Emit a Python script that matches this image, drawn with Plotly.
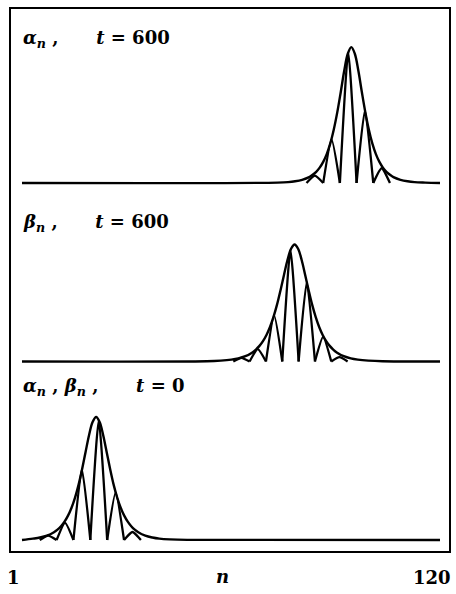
import plotly.graph_objects as go

# ---- lattice range -------------------------------------------------------
n_first, n_last = 1, 120
tick_labels = ["1", "n", "120"]

# ---- panel 1: alpha_n at t = 600 ----------------------------------------
# envelope |alpha_n|
a600_env_n = [1, 73.75, 76.75, 78.75, 80.75, 82.75, 83.75, 84.75, 85.75, 86.75,
              87.75, 88.75, 89.75, 90.75, 91.75, 92.75, 93.75, 94.75, 95.75,
              96.75, 97.75, 98.75, 99.75, 100.75, 101.75, 102.75, 103.75,
              104.75, 105.75, 106.75, 108.75, 110.75, 112.75, 115.75, 120]
a600_env_v = [0, 0.003, 0.007, 0.014, 0.026, 0.048, 0.067, 0.091, 0.125, 0.172,
              0.235, 0.320, 0.433, 0.574, 0.740, 0.914, 1.051, 1.105, 1.051,
              0.914, 0.740, 0.574, 0.433, 0.320, 0.235, 0.172, 0.125, 0.091,
              0.067, 0.048, 0.026, 0.014, 0.007, 0.003, 0]
# oscillating part: nodes (zeros) and the crest of each hump between them
a600_nodes = [82.0, 86.75, 91.5, 96.25, 101.0, 105.75]
a600_crest = [0.060, 0.355, 1.060, 0.590, 0.120]

# ---- panel 2: beta_n at t = 600 -----------------------------------------
b600_env_n = [1, 53.6, 57.6, 60.6, 62.6, 64.6, 66.6, 67.6, 68.6, 69.6, 70.6,
              71.6, 72.6, 73.6, 74.6, 75.6, 76.6, 77.6, 78.6, 79.6, 80.6,
              81.6, 82.6, 83.6, 84.6, 85.6, 86.6, 87.6, 88.6, 89.6, 90.6,
              92.6, 94.6, 96.6, 99.6, 103.6, 120]
b600_env_v = [0, 0.002, 0.007, 0.015, 0.025, 0.043, 0.074, 0.097, 0.127,
              0.166, 0.216, 0.281, 0.363, 0.462, 0.580, 0.706, 0.827, 0.917,
              0.951, 0.917, 0.827, 0.706, 0.580, 0.462, 0.363, 0.281, 0.216,
              0.166, 0.127, 0.097, 0.074, 0.043, 0.025, 0.015, 0.007, 0.002, 0]
b600_nodes = [61.15, 65.8, 70.45, 75.1, 79.75, 84.4, 89.05, 93.7]
b600_crest = [0.030, 0.100, 0.375, 0.905, 0.645, 0.200, 0.035]

# ---- panel 3: alpha_n and beta_n at t = 0 -------------------------------
t0_env_n = [1, 4.1, 6.1, 8.1, 10.1, 11.1, 12.1, 13.1, 14.1, 15.1, 16.1, 17.1,
            18.1, 19.1, 20.1, 21.1, 22.1, 23.1, 24.1, 25.1, 26.1, 27.1, 28.1,
            29.1, 30.1, 31.1, 32.1, 33.1, 34.1, 36.1, 38.1, 40.1, 43.1, 48, 120]
t0_env_v = [0, 0.011, 0.020, 0.035, 0.063, 0.084, 0.112, 0.149, 0.198,
            0.262, 0.344, 0.448, 0.575, 0.716, 0.854, 0.960, 1.000, 0.960,
            0.854, 0.716, 0.575, 0.448, 0.344, 0.262, 0.198, 0.149, 0.112,
            0.084, 0.063, 0.035, 0.020, 0.011, 0.005, 0.001, 0]
t0_nodes = [6.05, 10.85, 15.65, 20.45, 25.25, 30.05, 34.85]
t0_crest = [0.036, 0.140, 0.575, 0.970, 0.385, 0.065]

NB = "\u00a0"
panels = [
    ("y3", a600_env_n, a600_env_v, a600_nodes, a600_crest,
     f"<b><i>α</i><sub><i>n</i></sub> ,{NB * 5} <i>t</i> = 600</b>"),
    ("y2", b600_env_n, b600_env_v, b600_nodes, b600_crest,
     f"<b><i>β</i><sub><i>n</i></sub> ,{NB * 5} <i>t</i> = 600</b>"),
    ("y", t0_env_n, t0_env_v, t0_nodes, t0_crest,
     f"<b><i>α</i><sub><i>n</i></sub> , <i>β</i><sub><i>n</i></sub> ,"
     f"{NB * 5} <i>t</i> = 0</b>"),
]


def humps(nodes, crest):
    """One short segment per hump (node - crest - node); the gaps keep each
    hump smoothed on its own so neighbours meet in a sharp V."""
    xs, ys = [], []
    for left, right, top in zip(nodes[:-1], nodes[1:], crest):
        xs += [left, (left + right) / 2, right, None]
        ys += [0, top, 0, None]
    return xs, ys


W, H = 456, 594
px_left, px_right = 22, 440            # pixel columns of n = 1 and n = 120
scale_x = (px_right - px_left) / (n_last - n_first)
x_range = [n_first - px_left / scale_x, n_last + (W - px_right) / scale_x]

unit_px = 123                          # pixels per unit of amplitude
baselines = {"y3": 183, "y2": 361.5, "y": 540}

fig = go.Figure()
env_line = dict(color="black", width=2.4, shape="spline", smoothing=1)
hump_line = dict(color="black", width=2.3, shape="spline", smoothing=0.55)
for yref, en, ev, nodes, crest, label in panels:
    fig.add_trace(go.Scatter(x=en, y=ev, mode="lines", line=env_line,
                             yaxis=yref, hoverinfo="skip", showlegend=False))
    hx, hy = humps(nodes, crest)
    fig.add_trace(go.Scatter(x=hx, y=hy, mode="lines", line=hump_line,
                             connectgaps=False, yaxis=yref,
                             hoverinfo="skip", showlegend=False))

label_font = dict(family="DejaVu Serif", size=18, color="black")
label_rows = {"y3": 39, "y2": 223, "y": 387}
for yref, *_, label in panels:
    fig.add_annotation(x=21 / W, y=1 - label_rows[yref] / H,
                       xref="paper", yref="paper", text=label,
                       showarrow=False, xanchor="left", yanchor="middle",
                       font=label_font)

# axis end labels below the frame
axis_font = dict(family="DejaVu Serif", size=18, color="black")
fig.add_annotation(x=5 / W, y=1 - 577 / H, xref="paper", yref="paper",
                   text=f"<b>{tick_labels[0]}</b>", showarrow=False,
                   xanchor="left", yanchor="middle", font=axis_font)
fig.add_annotation(x=222 / W, y=1 - 576 / H, xref="paper", yref="paper",
                   text=f"<b><i>{tick_labels[1]}</i></b>", showarrow=False,
                   xanchor="center", yanchor="middle", font=axis_font)
fig.add_annotation(x=432 / W, y=1 - 577 / H, xref="paper", yref="paper",
                   text=f"<b>{tick_labels[2]}</b>", showarrow=False,
                   xanchor="center", yanchor="middle", font=axis_font)

# outer frame
fig.add_shape(type="rect", xref="paper", yref="paper",
              x0=10 / W, x1=450 / W, y0=1 - 552 / H, y1=1 - 8 / H,
              line=dict(color="black", width=2))


def y_range(base_px):
    return [(base_px - H) / unit_px, base_px / unit_px]


axis_off = dict(visible=False, fixedrange=True)
fig.update_layout(
    width=W, height=H,
    margin=dict(l=0, r=0, t=0, b=0),
    paper_bgcolor="white", plot_bgcolor="white",
    xaxis=dict(range=x_range, domain=[0, 1], **axis_off),
    yaxis=dict(range=y_range(baselines["y"]), domain=[0, 1], **axis_off),
    yaxis2=dict(range=y_range(baselines["y2"]), overlaying="y", **axis_off),
    yaxis3=dict(range=y_range(baselines["y3"]), overlaying="y", **axis_off),
)

fig.write_html("out.html")
